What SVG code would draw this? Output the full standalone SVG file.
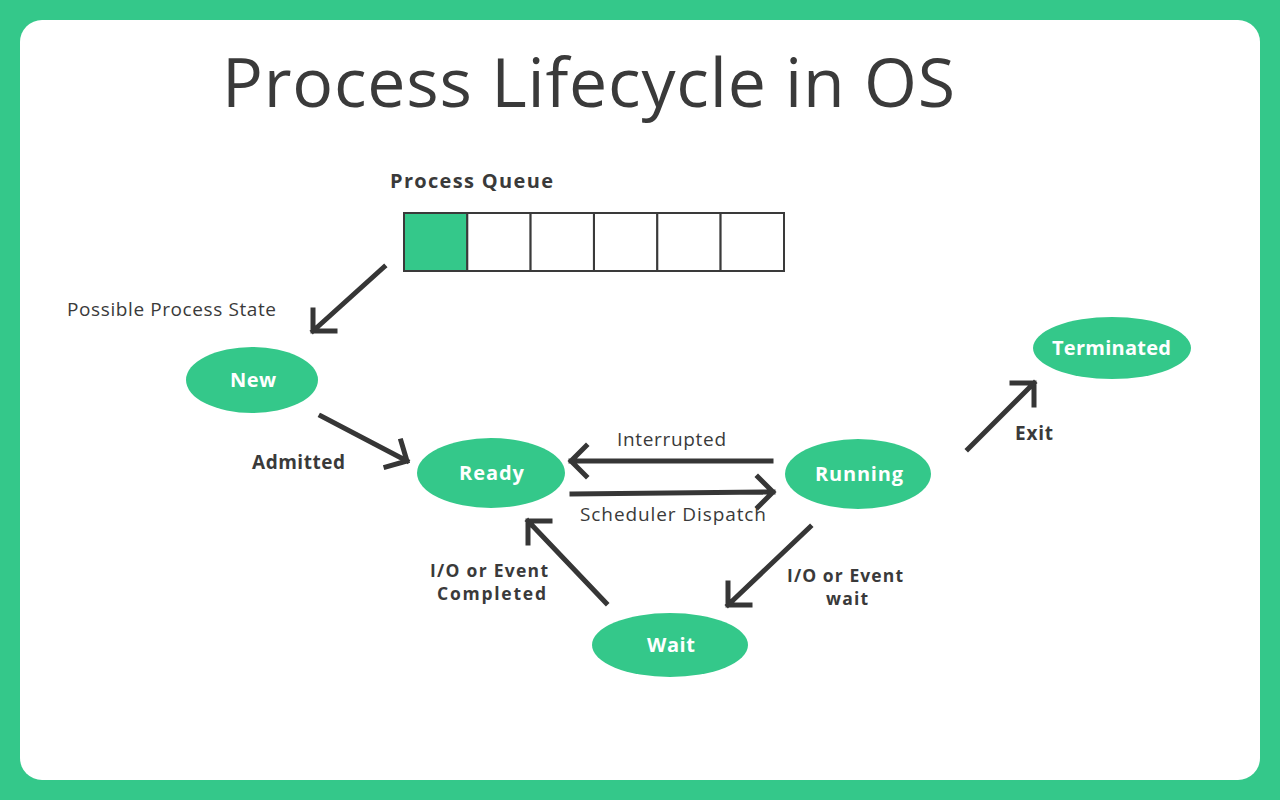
<svg xmlns="http://www.w3.org/2000/svg" width="1280" height="800" viewBox="0 0 1280 800">
<style>
.node{fill:#34c88a}
.nt{font-family:"Open Sans","Noto Sans",sans-serif;font-weight:700;font-size:20px;fill:#ffffff;text-anchor:middle}
.lb{font-family:"Open Sans","Noto Sans",sans-serif;font-weight:700;font-size:19px;fill:#3a3a3a;text-anchor:middle}
.lb2{font-family:"Open Sans","Noto Sans",sans-serif;font-weight:700;font-size:17.5px;fill:#3a3a3a;text-anchor:middle}
.lr{font-family:"Open Sans","Noto Sans",sans-serif;font-weight:400;font-size:19px;fill:#3a3a3a}
.ar{fill:none;stroke:#363636;stroke-width:5;stroke-linecap:square;stroke-linejoin:miter}
.cell{fill:#ffffff;stroke:#3a3a3a;stroke-width:2}
</style>
<rect x="0" y="0" width="1280" height="800" fill="#34c88a"/>
<rect x="20" y="20" width="1240" height="760" rx="22" fill="#ffffff"/>
<text x="222" y="107" font-family="'Open Sans','Noto Sans',sans-serif" font-weight="400" font-size="68" fill="#3a3a3a" textLength="733" lengthAdjust="spacing">Process Lifecycle in OS</text>
<g id="queue">
<text x="390" y="188" font-family="'Open Sans','Noto Sans',sans-serif" font-weight="700" font-size="20" fill="#3a3a3a" textLength="163" lengthAdjust="spacing">Process Queue</text>
<rect class="cell" x="404" y="213" width="63.3" height="58" style="fill:#34c88a"/>
<rect class="cell" x="467.3" y="213" width="63.3" height="58"/>
<rect class="cell" x="530.6" y="213" width="63.3" height="58"/>
<rect class="cell" x="594" y="213" width="63.3" height="58"/>
<rect class="cell" x="657.3" y="213" width="63.3" height="58"/>
<rect class="cell" x="720.6" y="213" width="63.4" height="58"/>
</g>
<text class="lr" x="67" y="316" textLength="209" lengthAdjust="spacing">Possible Process State</text>
<g id="new"><ellipse class="node" cx="252" cy="380" rx="66" ry="33"/><text class="nt" x="253" y="387" textLength="46" lengthAdjust="spacing">New</text></g>
<g id="ready"><ellipse class="node" cx="491" cy="473" rx="74" ry="35"/><text class="nt" x="491.5" y="480" textLength="65" lengthAdjust="spacing">Ready</text></g>
<g id="running"><ellipse class="node" cx="858" cy="474" rx="73" ry="35"/><text class="nt" x="859" y="481" textLength="88" lengthAdjust="spacing">Running</text></g>
<g id="terminated"><ellipse class="node" cx="1112" cy="348" rx="79" ry="31"/><text class="nt" x="1111.5" y="355" textLength="119" lengthAdjust="spacing">Terminated</text></g>
<g id="wait"><ellipse class="node" cx="670" cy="645" rx="78" ry="32"/><text class="nt" x="671" y="652" textLength="48" lengthAdjust="spacing">Wait</text></g>
<g id="connectors">
<path class="ar" d="M384 267 L313 331 M313 310 L313 331 L335 331"/>
<path class="ar" d="M321 416 L407 461 M401 441 L407 461 L386 467"/>
<path class="ar" d="M771 461 L571 461 M586 446 L571 461 L586 476"/>
<path class="ar" d="M572 494 L773 492 M758 477 L773 492 L758 507"/>
<path class="ar" d="M606 603 L528 521 M528 543 L528 521 L550 521"/>
<path class="ar" d="M810 527 L728 605 M728 583 L728 605 L750 605"/>
<path class="ar" d="M968 449 L1034 383 M1012 383 L1034 383 L1034 405"/>
</g>
<text class="lb" x="298.5" y="469" textLength="93" lengthAdjust="spacing">Admitted</text>
<text class="lr" x="671.5" y="446" text-anchor="middle" textLength="109" lengthAdjust="spacing">Interrupted</text>
<text class="lr" x="673" y="521" text-anchor="middle" textLength="186" lengthAdjust="spacing">Scheduler Dispatch</text>
<text class="lb2" x="489" y="577" textLength="118" lengthAdjust="spacing">I/O or Event</text>
<text class="lb2" x="491.5" y="600" textLength="109" lengthAdjust="spacing">Completed</text>
<text class="lb2" x="845" y="582" textLength="116" lengthAdjust="spacing">I/O or Event</text>
<text class="lb2" x="847" y="605" textLength="42" lengthAdjust="spacing">wait</text>
<text class="lb" x="1034" y="440" textLength="38" lengthAdjust="spacing">Exit</text>
</svg>
